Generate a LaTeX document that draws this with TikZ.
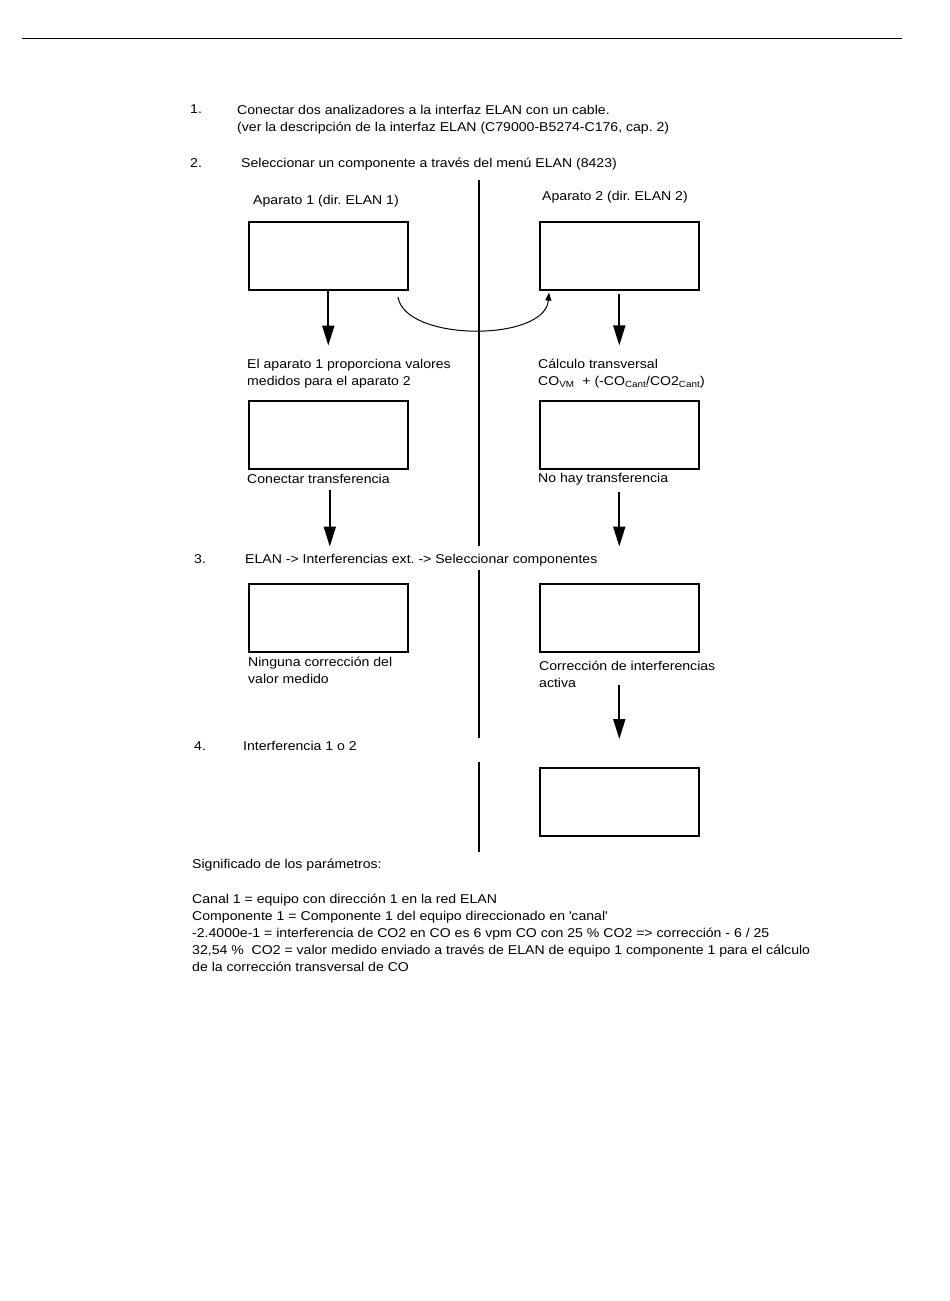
\documentclass[tikz,border=0pt]{standalone}
\usepackage{fontspec}
\setmainfont[FakeStretch=1.1]{Liberation Sans}
\usepackage{tikz}
\usetikzlibrary{arrows.meta,positioning}

\begin{document}
\begin{tikzpicture}[x=1pt, y=-1pt,
  every node/.style={font=\fontsize{12.8}{17}\selectfont\frenchspacing, inner sep=0pt, align=left},
  txt/.style={anchor=base west},
  panel/.style={draw, line width=1.6pt, minimum width=159pt, minimum height=68pt, anchor=north west},
  down/.style={-{Triangle[length=20pt,width=12pt]}, line width=1.8pt},
  divider/.style={line width=1.6pt}]
\useasboundingbox (0,0) rectangle (950,1301);
\draw[line width=0.8pt] (22,38) -- (902,38);

% steps (multi-line nodes sit on the baseline of their last line)
\node[txt] (n1) at (190,113) {1.};
\node[txt] (step1) at (237,131) {Conectar dos analizadores a la interfaz ELAN con un cable.\\(ver la descripción de la interfaz ELAN (C79000-B5274-C176, cap. 2)};
\node[txt] (n2) at (190,167) {2.};
\node[txt] (step2) at (241,167) {Seleccionar un componente a través del menú ELAN (8423)};
\node[txt] (n3) at (194,563) {3.};
\node[txt] (step3) at (245,563) {ELAN -> Interferencias ext. -> Seleccionar componentes};
\node[txt] (n4) at (194,750) {4.};
\node[txt] (step4) at (243,750) {Interferencia 1 o 2};

% divider
\coordinate (d1) at (479,180);
\coordinate (d2) at (479,546);
\coordinate (d3) at (479,570);
\coordinate (d4) at (479,738);
\coordinate (d5) at (479,762);
\coordinate (d6) at (479,852);
\draw[divider] (d1) -- (d2);
\draw[divider] (d3) -- (d4);
\draw[divider] (d5) -- (d6);

% device 1
\node[txt] (titleA) at (253,204) {Aparato 1 (dir. ELAN 1)};
\node[panel] (aparA) at (248,221) {};
\node[txt] (descA) at (247,385) {El aparato 1 proporciona valores\\medidos para el aparato 2};
\node[panel] (transBoxA) at (248,400) {};
\node[txt] (transA) at (247,483) {Conectar transferencia};
\node[panel] (corrBoxA) at (248,583) {};
\node[txt] (corrA) at (248,683) {Ninguna corrección del\\valor medido};

% device 2
\node[txt] (titleB) at (542,200) {Aparato 2 (dir. ELAN 2)};
\node[panel] (aparB) at (539,221) {};
\node[txt] (calcB) at (538,385) {Cálculo transversal\\CO\textsubscript{VM}~ + (-CO\textsubscript{Cant.}\kern-3pt/CO2\textsubscript{Cant.}\kern-3pt)};
\node[panel] (transBoxB) at (539,400) {};
\node[txt] (transB) at (538,482) {No hay transferencia};
\node[panel] (corrBoxB) at (539,583) {};
\node[txt] (corrB) at (539,687) {Corrección de interferencias\\activa};
\node[panel] (interB) at (539,767) {};

% arrows
\draw[down, shorten >=13pt] (aparA.south) -- (aparA.south |- descA.north);
\draw[down, shorten <=3pt, shorten >=13pt] (aparB.south) -- (aparB.south |- calcB.north);
\draw[-{Triangle[length=8pt,width=6pt]}, line width=1pt] (398,297) .. controls (405,342) and (545,342) .. ([shift={(10pt,-2pt)}]aparB.south west);
\draw[down, shorten <=7pt, shorten >=7pt] ([xshift=1.5pt]transBoxA.south |- transA.south) -- ([xshift=1.5pt]transBoxA.south |- step3.north);
\draw[down, shorten <=7pt, shorten >=7pt] (transBoxB.south |- transB.south) -- (transBoxB.south |- step3.north);
\draw[down, shorten <=-2pt, shorten >=28pt] (corrBoxB.south |- corrB.base) -- (interB.north);

% legend
\node[txt] (legendTitle) at (192,868) {Significado de los parámetros:};
\node[txt] (legend) at (192,971) {Canal 1 = equipo con dirección 1 en la red ELAN\\
Componente 1 = Componente 1 del equipo direccionado en \textquotesingle canal\textquotesingle\\
-2.4000e-1 = interferencia de CO2 en CO es 6 vpm CO con 25 \% CO2 => corrección - 6 / 25\\
32,54 \%~ CO2 = valor medido enviado a través de ELAN de equipo 1 componente 1 para el cálculo\\
de la corrección transversal de CO};
\end{tikzpicture}
\end{document}
